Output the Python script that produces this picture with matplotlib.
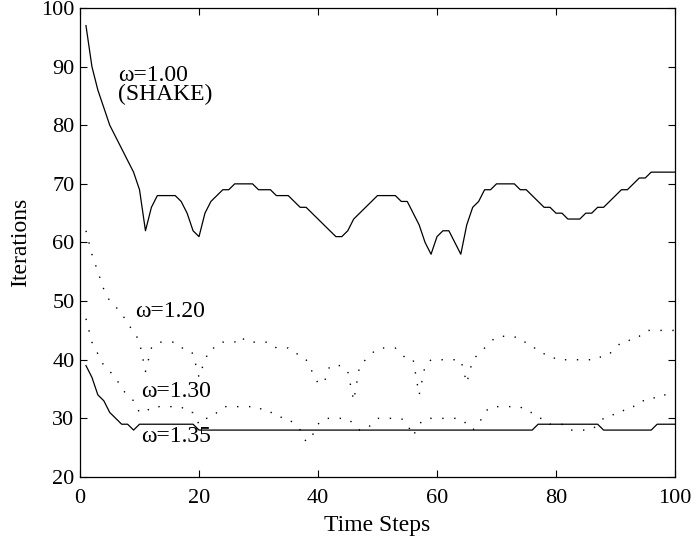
import matplotlib
matplotlib.use("Agg")
import matplotlib.pyplot as plt
import numpy as np

# relaxation factor runs, iterations per time step
steps = np.arange(1, 101)

w100 = [97, 90, 86, 83, 80, 78, 76, 74, 72, 69,
        62, 66, 68, 68, 68, 68, 67, 65, 62, 61,
        65, 67, 68, 69, 69, 70, 70, 70, 70, 69,
        69, 69, 68, 68, 68, 67, 66, 66, 65, 64,
        63, 62, 61, 61, 62, 64, 65, 66, 67, 68,
        68, 68, 68, 67, 67, 65, 63, 60, 58, 61,
        62, 62, 60, 58, 63, 66, 67, 69, 69, 70,
        70, 70, 70, 69, 69, 68, 67, 66, 66, 65,
        65, 64, 64, 64, 65, 65, 66, 66, 67, 68,
        69, 69, 70, 71, 71, 72, 72, 72, 72, 72]

w120 = [62, 58, 55, 52, 50, 49, 48, 46, 45, 43,
        38, 42, 43, 43, 43, 43, 42, 42, 41, 37,
        40, 42, 42, 43, 43, 43, 44, 43, 43, 43,
        43, 43, 42, 42, 42, 41, 41, 40, 38, 36,
        36, 39, 39, 39, 38, 33, 39, 40, 41, 42,
        42, 42, 42, 41, 40, 40, 34, 39, 40, 40,
        40, 40, 40, 40, 36, 40, 41, 42, 43, 44,
        44, 44, 44, 43, 43, 42, 42, 41, 41, 40,
        40, 40, 40, 40, 40, 40, 40, 41, 41, 42,
        43, 43, 44, 44, 45, 45, 45, 45, 45, 45]

w130 = [47, 43, 41, 39, 38, 37, 35, 34, 33, 31,
        31, 32, 32, 32, 32, 32, 32, 31, 31, 29,
        30, 30, 31, 32, 32, 32, 32, 32, 32, 32,
        31, 31, 31, 30, 30, 29, 28, 26, 27, 29,
        30, 30, 30, 30, 30, 29, 28, 28, 29, 30,
        30, 30, 30, 30, 29, 27, 29, 30, 30, 30,
        30, 30, 30, 30, 29, 28, 29, 31, 32, 32,
        32, 32, 32, 32, 31, 31, 30, 30, 29, 29,
        29, 28, 28, 28, 28, 28, 29, 30, 30, 31,
        31, 32, 32, 33, 33, 33, 34, 34, 34, 34]

w135 = [39, 37, 34, 33, 31, 30, 29, 29, 28, 29,
        29, 29, 29, 29, 29, 29, 29, 29, 29, 28,
        28, 28, 28, 28, 28, 28, 28, 28, 28, 28,
        28, 28, 28, 28, 28, 28, 28, 28, 28, 28,
        28, 28, 28, 28, 28, 28, 28, 28, 28, 28,
        28, 28, 28, 28, 28, 28, 28, 28, 28, 28,
        28, 28, 28, 28, 28, 28, 28, 28, 28, 28,
        28, 28, 28, 28, 28, 28, 29, 29, 29, 29,
        29, 29, 29, 29, 29, 29, 29, 28, 28, 28,
        28, 28, 28, 28, 28, 28, 29, 29, 29, 29]

plt.rcParams['font.family'] = ['Liberation Serif', 'DejaVu Serif']
plt.rcParams['font.size'] = 16

fig = plt.figure(figsize=(6.94, 5.44), dpi=100)
ax = fig.add_axes([0.1153, 0.1232, 0.8573, 0.8621])

ax.plot(steps, w100, 'k-', lw=0.9)
ax.plot(steps, w120, 'k', lw=1.0, linestyle=(0, (1.0, 7.6)))
ax.plot(steps, w130, 'k', lw=1.0, linestyle=(0, (1.0, 7.6)))
ax.plot(steps, w135, 'k-', lw=0.9)

# labels next to the curves
ax.text(6.4, 84.35, 'ω=1.00\n(SHAKE)', va='baseline', fontsize=17,
        linespacing=0.82)
ax.text(9.2, 47.3, 'ω=1.20', va='baseline', fontsize=17)
ax.text(10.2, 33.7, 'ω=1.30', va='baseline', fontsize=17)
ax.text(10.2, 26.05, 'ω=1.35', va='baseline', fontsize=17)

ax.set_xlim(0, 100)
ax.set_ylim(20, 100)
ax.set_xticks([0, 20, 40, 60, 80, 100])
ax.set_yticks(range(20, 101, 10))
ax.tick_params(direction='in', length=5, width=0.8, top=True, right=True)
ax.tick_params(axis='x', pad=9)
ax.tick_params(axis='y', pad=4)
for s in ax.spines.values():
    s.set_linewidth(0.9)

ax.set_xlabel('Time Steps', labelpad=5, fontsize=17)
ax.set_ylabel('Iterations', labelpad=7, fontsize=17)

fig.savefig('out.png', dpi=100)
